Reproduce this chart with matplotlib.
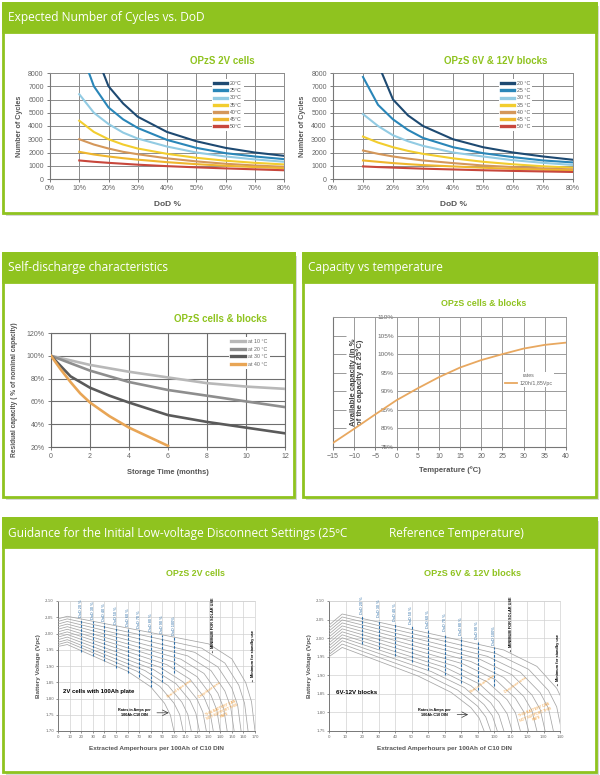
import matplotlib
matplotlib.use('Agg')
import matplotlib.pyplot as plt
from matplotlib.patches import Rectangle

# ---------------- data ----------------
DOD = [10, 15, 20, 25, 30, 40, 50, 60, 70, 80]
CYC_LABELS_2V = ['20°C', '25°C', '30°C', '35°C', '40°C', '45°C', '50°C']
CYC_LABELS_BL = ['20 °C', '25 °C', '30 °C', '35 °C', '40 °C', '45 °C', '50 °C']
CYC_COLORS = ['#1e4a72', '#2a86b8', '#92cbe3', '#f2cd2e', '#d4975a', '#efb62e', '#c8473c']

C2V_20 = [14000, 9800, 7000, 5700, 4700, 3550, 2850, 2350, 2000, 1750]
C2V_25 = [10000, 7000, 5400, 4500, 3850, 2950, 2350, 1950, 1700, 1500]
C2V_30 = [6400, 5000, 4150, 3500, 3050, 2450, 2000, 1700, 1480, 1300]
C2V_35 = [4400, 3550, 3000, 2600, 2300, 1900, 1600, 1380, 1220, 1100]
C2V_40 = [3000, 2600, 2300, 2050, 1870, 1560, 1330, 1150, 1020, 920]
C2V_45 = [2050, 1850, 1700, 1570, 1460, 1270, 1120, 1000, 900, 820]
C2V_50 = [1400, 1300, 1220, 1150, 1080, 970, 880, 800, 730, 660]

CBL_20 = [12000, 8700, 6000, 4800, 4000, 3000, 2400, 2000, 1700, 1450]
CBL_25 = [7700, 5600, 4500, 3700, 3100, 2400, 1950, 1650, 1400, 1250]
CBL_30 = [4900, 4000, 3300, 2850, 2500, 2000, 1700, 1420, 1220, 1060]
CBL_35 = [3200, 2750, 2400, 2120, 1900, 1560, 1300, 1110, 960, 850]
CBL_40 = [2150, 1900, 1700, 1540, 1400, 1200, 1020, 900, 800, 720]
CBL_45 = [1400, 1300, 1200, 1120, 1050, 950, 850, 770, 700, 650]
CBL_50 = [950, 900, 860, 820, 780, 720, 660, 610, 570, 530]

SD_LABELS = ['at 10 °C', 'at 20 °C', 'at 30 °C', 'at 40 °C']
SD_COLORS = ['#b8b8b8', '#8e8e8e', '#5a5a5a', '#e8a555']
SD10_M = [0, 2, 4, 6, 8, 10, 12]
SD10_V = [100, 92, 86, 81, 76, 73, 71]
SD20_M = [0, 2, 4, 6, 8, 10, 12]
SD20_V = [100, 87, 77, 70, 65, 60, 55]
SD30_M = [0, 1, 2, 3, 4, 6, 8, 10, 12]
SD30_V = [100, 82, 72, 65, 59, 48, 42, 37, 32]
SD40_M = [0, 0.5, 1, 1.5, 2, 3, 4, 5, 6]
SD40_V = [100, 88, 77, 67, 59, 47, 37, 29, 21]

TEMP = [-15, -10, -5, 0, 5, 10, 15, 20, 25, 30, 35, 40]
CAP = [76.1, 79.9, 83.8, 87.6, 90.8, 93.8, 96.4, 98.4, 100.0, 101.5, 102.5, 103.1]

# discharge curves: voltage at Ah = [0, 8, end-40, end-20, end-8, end-3, end]
V2_END = [170, 164, 158, 152, 146, 140, 134, 128, 122, 115, 108, 100]
V2_CURVES = [
    [2.045, 2.053, 1.968, 1.922, 1.849, 1.790, 1.70],
    [2.037, 2.045, 1.955, 1.909, 1.841, 1.785, 1.70],
    [2.029, 2.037, 1.942, 1.897, 1.832, 1.780, 1.70],
    [2.021, 2.029, 1.931, 1.886, 1.823, 1.774, 1.70],
    [2.013, 2.021, 1.921, 1.877, 1.816, 1.769, 1.70],
    [2.005, 2.013, 1.912, 1.867, 1.810, 1.765, 1.70],
    [1.997, 2.005, 1.904, 1.859, 1.804, 1.761, 1.70],
    [1.989, 1.997, 1.896, 1.851, 1.798, 1.758, 1.70],
    [1.981, 1.989, 1.890, 1.845, 1.793, 1.754, 1.70],
    [1.973, 1.981, 1.886, 1.840, 1.788, 1.751, 1.70],
    [1.966, 1.974, 1.884, 1.837, 1.786, 1.751, 1.70],
    [1.960, 1.966, 1.884, 1.836, 1.785, 1.749, 1.70],
]
VB_END = [146, 141, 136, 131, 126, 121, 116, 111, 106, 102, 98, 94]
VB_CURVES = [
    [2.035, 2.065, 1.968, 1.924, 1.865, 1.819, 1.75],
    [2.027, 2.057, 1.959, 1.916, 1.859, 1.815, 1.75],
    [2.019, 2.049, 1.951, 1.908, 1.853, 1.811, 1.75],
    [2.011, 2.041, 1.944, 1.901, 1.847, 1.808, 1.75],
    [2.003, 2.033, 1.937, 1.894, 1.843, 1.805, 1.75],
    [1.995, 2.025, 1.931, 1.888, 1.838, 1.802, 1.75],
    [1.987, 2.017, 1.925, 1.882, 1.834, 1.799, 1.75],
    [1.979, 2.009, 1.920, 1.877, 1.829, 1.796, 1.75],
    [1.971, 2.001, 1.916, 1.872, 1.826, 1.793, 1.75],
    [1.963, 1.993, 1.910, 1.867, 1.821, 1.791, 1.75],
    [1.956, 1.984, 1.904, 1.860, 1.817, 1.788, 1.75],
    [1.950, 1.975, 1.898, 1.854, 1.813, 1.785, 1.75],
]
DOD_X = [20, 30, 40, 50, 60, 70, 80, 90, 100]
DOD_LABELS = ['DoD 20 %', 'DoD 30 %', 'DoD 40 %', 'DoD 50 %', 'DoD 60 %',
              'DoD 70 %', 'DoD 80 %', 'DoD 90 %', 'DoD 100%']
DOD2_TOP = [2.045, 2.038, 2.031, 2.024, 2.017, 2.010, 2.003, 1.996, 1.989]
DOD2_BOT = [1.943, 1.930, 1.915, 1.895, 1.880, 1.865, 1.835, 1.850, 1.880]
DODB_TOP = [2.060, 2.050, 2.040, 2.032, 2.022, 2.012, 2.002, 1.992, 1.975]
DODB_BOT = [1.985, 1.972, 1.952, 1.935, 1.915, 1.900, 1.880, 1.860, 1.872]

# ---------------- figure ----------------
W, H = 600, 775
fig = plt.figure(figsize=(6, 7.75), dpi=100)
GREEN = '#8fc31f'
GRAY_TXT = '#555555'
CF = ['Liberation Sans', 'DejaVu Sans']
HF = ['Open Sans', 'DejaVu Sans']


def add_ax(l, t, r, b):
    ax = fig.add_axes([l / W, 1 - b / H, (r - l) / W, (b - t) / H])
    ax.set_zorder(5)
    return ax


def ftext(x, y, s, **kw):
    kw.setdefault('zorder', 6)
    fig.text(x / W, 1 - y / H, s, **kw)


def panel(l, t, r, b, parts):
    fig.add_artist(Rectangle(((l + 3) / W, 1 - (b + 3) / H), (r - l) / W, (b - t) / H,
                             transform=fig.transFigure, facecolor='#d8d8d8',
                             edgecolor='none', zorder=0))
    fig.add_artist(Rectangle((l / W, 1 - b / H), (r - l) / W, (b - t) / H,
                             transform=fig.transFigure, facecolor='white',
                             edgecolor=GREEN, lw=2, zorder=1))
    fig.add_artist(Rectangle((l / W, 1 - (t + 29) / H), (r - l) / W, 29 / H,
                             transform=fig.transFigure, facecolor=GREEN,
                             edgecolor=GREEN, lw=2, zorder=2))
    for x, s in parts:
        ftext(x, t + 15, s, color='white', fontsize=8.6, family=HF,
              va='center', ha='left')


panel(3, 3, 596, 213, [(8, 'Expected Number of Cycles vs. DoD')])
panel(3, 253, 294, 497, [(8, 'Self-discharge characteristics')])
panel(303, 253, 596, 497, [(308, 'Capacity vs temperature')])
panel(3, 518, 596, 772, [(8, 'Guidance for the Initial Low-voltage Disconnect Settings (25ºC'),
                         (389, 'Reference Temperature)')])


def subtitle(x, y, s, size=7):
    ftext(x, y, s, color=GREEN, fontsize=size, fontweight='bold', family=CF,
          ha='center', va='center')


# ---------------- cycles charts ----------------
def cycles_chart(ax, series, labels):
    for ys, lab, col in zip(series, labels, CYC_COLORS):
        ax.plot(DOD, ys, color=col, lw=1.5, label=lab, zorder=3)
    ax.set_xlim(0, 80)
    ax.set_ylim(0, 8000)
    ax.set_xticks(range(0, 81, 10))
    ax.set_xticklabels([f'{v}%' for v in range(0, 81, 10)])
    ax.set_yticks(range(0, 8001, 1000))
    ax.grid(True, color='#8c8c8c', lw=0.7)
    ax.set_axisbelow(True)
    for s in ['top', 'right']:
        ax.spines[s].set_color('#8c8c8c')
        ax.spines[s].set_linewidth(0.7)
    for s in ['left', 'bottom']:
        ax.spines[s].set_color('#777777')
        ax.spines[s].set_linewidth(0.8)
    ax.tick_params(labelsize=5, colors='#666666', length=2.5, width=0.6, pad=2)
    for t in ax.get_xticklabels() + ax.get_yticklabels():
        t.set_family(CF)
    ax.set_ylabel('Number of Cycles', fontsize=5.2, fontweight='bold',
                  color=GRAY_TXT, family=CF, labelpad=4)
    ax.set_xlabel('DoD %', fontsize=6, fontweight='bold', color=GRAY_TXT,
                  family=CF, labelpad=6)
    leg = ax.legend(loc='upper left', bbox_to_anchor=(0.68, 0.97),
                    prop={'family': CF, 'size': 3.8}, frameon=True,
                    handlelength=2.4, handletextpad=0.6, labelspacing=0.42,
                    borderpad=0.4, framealpha=1)
    leg.get_frame().set_edgecolor('none')
    leg.get_frame().set_facecolor('white')
    for ln in leg.get_lines():
        ln.set_linewidth(2.4)
    for t in leg.get_texts():
        t.set_color('#555555')


ax1 = add_ax(50, 73, 284, 179)
cycles_chart(ax1, [C2V_20, C2V_25, C2V_30, C2V_35, C2V_40, C2V_45, C2V_50], CYC_LABELS_2V)
subtitle(222, 61, 'OPzS 2V cells')

ax2 = add_ax(333, 73, 573, 179)
cycles_chart(ax2, [CBL_20, CBL_25, CBL_30, CBL_35, CBL_40, CBL_45, CBL_50], CYC_LABELS_BL)
subtitle(496, 61, 'OPzS 6V & 12V blocks')

# ---------------- self discharge ----------------
ax3 = add_ax(51, 333, 285, 447)
for m, v, lab, col in zip([SD10_M, SD20_M, SD30_M, SD40_M],
                          [SD10_V, SD20_V, SD30_V, SD40_V], SD_LABELS, SD_COLORS):
    ax3.plot(m, v, color=col, lw=1.9, label=lab, zorder=3)
ax3.set_xlim(0, 12)
ax3.set_ylim(20, 120)
ax3.set_xticks(range(0, 13, 2))
ax3.set_yticks(range(20, 121, 20))
ax3.set_yticklabels([f'{v}%' for v in range(20, 121, 20)])
ax3.grid(True, color='#6e6e6e', lw=0.8)
ax3.set_axisbelow(True)
for s in ['top', 'right']:
    ax3.spines[s].set_color('#6e6e6e')
    ax3.spines[s].set_linewidth(0.8)
for s in ['left', 'bottom']:
    ax3.spines[s].set_color('#666666')
ax3.tick_params(labelsize=5, colors='#666666', length=2.5, width=0.6, pad=2)
for t in ax3.get_xticklabels() + ax3.get_yticklabels():
    t.set_family(CF)
ax3.set_ylabel('Residual capacity ( % of nominal capacity)', fontsize=4.8,
               fontweight='bold', color=GRAY_TXT, family=CF, labelpad=6)
ax3.set_xlabel('Storage Time (months)', fontsize=5.4, fontweight='bold',
               color=GRAY_TXT, family=CF, labelpad=6)
leg = ax3.legend(loc='upper left', bbox_to_anchor=(0.75, 0.99),
                 prop={'family': CF, 'size': 3.8}, frameon=True,
                 handlelength=2.6, handletextpad=0.6, labelspacing=0.5,
                 borderpad=0.4, framealpha=1)
leg.get_frame().set_edgecolor('none')
for ln in leg.get_lines():
    ln.set_linewidth(2.4)
for t in leg.get_texts():
    t.set_color('#666666')
subtitle(221, 319, 'OPzS cells & blocks')

# ---------------- capacity vs temperature ----------------
ax4 = add_ax(333, 317, 566, 447)
ax4.plot(TEMP, CAP, color='#e8a860', lw=1.3, label='120h/1,85Vpc', zorder=3)
ax4.set_xlim(-15, 40)
ax4.set_ylim(75, 110)
ax4.set_xticks(range(-15, 41, 5))
YT = list(range(75, 111, 5))
ax4.set_yticks(YT)
ax4.set_yticklabels([])
ax4.tick_params(axis='y', direction='in', length=9, width=0.7, colors='#999999')
ax4.tick_params(axis='x', labelsize=5, colors='#666666', length=2.5, width=0.6, pad=2)
for t in ax4.get_xticklabels():
    t.set_family(CF)
ax4.grid(axis='x', color='#9a9a9a', lw=0.7)
ax4.hlines(YT, 0, 40, color='#9a9a9a', lw=0.7, zorder=1)
for s in ['top', 'right']:
    ax4.spines[s].set_color('#9a9a9a')
    ax4.spines[s].set_linewidth(0.7)
ax4.spines['left'].set_color('#777777')
ax4.spines['bottom'].set_color('#777777')
sec = ax4.secondary_yaxis(15 / 55)
sec.set_yticks(YT)
sec.set_yticklabels([f'{v}%' for v in YT])
sec.tick_params(length=0, labelsize=4.6, colors='#666666', pad=2)
for t in sec.get_yticklabels():
    t.set_family(CF)
for sp in sec.spines.values():
    sp.set_visible(False)
ax4.set_ylabel('Available capacity (in %\nof the capacity at 25°C)', fontsize=5.6,
               fontweight='bold', color='#444444', family=CF, linespacing=0.95)
ax4.yaxis.set_label_coords(0.135, 0.5)
ax4.set_xlabel('Temperature (ºC)', fontsize=5.6, fontweight='bold', color=GRAY_TXT,
               family=CF, labelpad=4)
leg = ax4.legend(title='rates', loc='upper left', bbox_to_anchor=(0.72, 0.6),
                 prop={'family': CF, 'size': 3.8}, title_fontproperties={'family': CF, 'size': 3.8},
                 frameon=True, handlelength=2.2, handletextpad=0.5, borderpad=0.3,
                 framealpha=1)
leg.get_frame().set_edgecolor('none')
leg.get_title().set_color('#666666')
for t in leg.get_texts():
    t.set_color('#666666')
subtitle(484, 303, 'OPzS cells & blocks', size=6.4)

# ---------------- discharge charts ----------------
BLUE = '#2f6fa8'
ORANGE = '#f0a040'


def discharge_chart(ax, curves, ends, ymin, xmax, dtop, dbot):
    for v, e in zip(curves, ends):
        ax.plot([0, 8, e - 40, e - 20, e - 8, e - 3, e], v, color='#a5a5a5', lw=0.55, zorder=3)
    ax.set_xlim(0, xmax)
    ax.set_ylim(ymin, 2.10)
    ax.set_xticks(range(0, xmax + 1, 10))
    yt = [round(ymin + 0.05 * i, 2) for i in range(int(round((2.10 - ymin) / 0.05)) + 1)]
    ax.set_yticks(yt)
    ax.set_yticklabels([f'{v:.2f}'.replace('.', ',') for v in yt])
    ax.grid(True, color='#d2d2d2', lw=0.5)
    ax.set_axisbelow(True)
    for s in ['top', 'right']:
        ax.spines[s].set_color('#d2d2d2')
        ax.spines[s].set_linewidth(0.5)
    for s in ['left', 'bottom']:
        ax.spines[s].set_color('#777777')
        ax.spines[s].set_linewidth(0.7)
    ax.tick_params(labelsize=2.8, colors='#666666', length=1.5, width=0.5, pad=1.5)
    ax.vlines(DOD_X, dbot, dtop, colors=BLUE, linestyles=(0, (2.5, 1.2)), lw=0.8, zorder=4)
    for x, t, lab in zip(DOD_X, dtop, DOD_LABELS):
        ax.text(x, t + 0.006, lab, rotation=90, fontsize=2.8, color=BLUE, family=CF,
                ha='center', va='bottom', clip_on=False, zorder=5)
    ax.set_ylabel('Battery Voltage (Vpc)', fontsize=4.6, fontweight='bold',
                  color=GRAY_TXT, family=CF, labelpad=3)
    ax.set_xlabel('Extracted Amperhours per 100Ah of C10 DIN', fontsize=4.6,
                  fontweight='bold', color=GRAY_TXT, family=CF, labelpad=5)


ax5 = add_ax(58, 601, 255, 731)
discharge_chart(ax5, V2_CURVES, V2_END, 1.70, 170, DOD2_TOP, DOD2_BOT)
ax5.text(4, 1.822, '2V cells with 100Ah plate', fontsize=4.3, fontweight='bold',
         family=CF, ha='left', va='center', zorder=6)
ax5.text(66, 1.757, 'Rates in Amps per\n100Ah C10 DIN', fontsize=2.7, fontweight='bold',
         family=CF, ha='center', va='center', linespacing=1.1, zorder=6)
ax5.annotate('', xy=(98, 1.756), xytext=(83, 1.756),
             arrowprops=dict(arrowstyle='->', lw=0.5, color='#333333'), zorder=6)
ax5.text(134, 1.94, '← MINIMUM FOR SOLAR USE', rotation=90, fontsize=2.8, fontweight='bold',
         family=CF, ha='center', va='bottom', zorder=6)
ax5.text(168, 1.85, '← Minimum for standby use', rotation=90, fontsize=2.8, fontweight='bold',
         family=CF, ha='center', va='bottom', zorder=6, clip_on=False)
ax5.text(105, 1.83, 'Start of knee area', rotation=35, fontsize=2.6, color=ORANGE,
         family=CF, ha='center', va='center', zorder=6)
ax5.text(131, 1.826, 'Deep knee area', rotation=35, fontsize=2.6, color=ORANGE,
         family=CF, ha='center', va='center', zorder=6)
ax5.text(142, 1.76, 'THIS BATTERY CAN\nNOT SUPPORT THIS\nRATE', rotation=25, fontsize=2.6,
         color=ORANGE, family=CF, ha='center', va='center', linespacing=1.1, zorder=6)
subtitle(195, 574, 'OPzS 2V cells', size=6.4)

ax6 = add_ax(329, 601, 560, 731)
discharge_chart(ax6, VB_CURVES, VB_END, 1.75, 140, DODB_TOP, DODB_BOT)
ax6.text(4, 1.853, '6V-12V blocks', fontsize=4.4, fontweight='bold',
         family=CF, ha='left', va='center', zorder=6)
ax6.text(64, 1.80, 'Rates in Amps per\n100Ah C10 DIN', fontsize=2.7, fontweight='bold',
         family=CF, ha='center', va='center', linespacing=1.1, zorder=6)
ax6.annotate('', xy=(86, 1.794), xytext=(76, 1.794),
             arrowprops=dict(arrowstyle='->', lw=0.5, color='#333333'), zorder=6)
ax6.text(110, 1.963, '← MINIMUM FOR SOLAR USE', rotation=90, fontsize=2.8, fontweight='bold',
         family=CF, ha='center', va='bottom', zorder=6, clip_on=False)
ax6.text(139, 1.87, '← Minimum for standby use', rotation=90, fontsize=2.8, fontweight='bold',
         family=CF, ha='center', va='bottom', zorder=6, clip_on=False)
ax6.text(93, 1.878, 'Start of knee area', rotation=35, fontsize=2.6, color=ORANGE,
         family=CF, ha='center', va='center', zorder=6)
ax6.text(113, 1.873, 'Deep knee area', rotation=35, fontsize=2.6, color=ORANGE,
         family=CF, ha='center', va='center', zorder=6)
ax6.text(125, 1.795, 'THIS BATTERY CAN\nNOT SUPPORT THIS\nRATE', rotation=22, fontsize=2.6,
         color=ORANGE, family=CF, ha='center', va='center', linespacing=1.1, zorder=6)
subtitle(472, 574, 'OPzS 6V & 12V blocks', size=6.6)

fig.savefig('out.png', dpi=100)
